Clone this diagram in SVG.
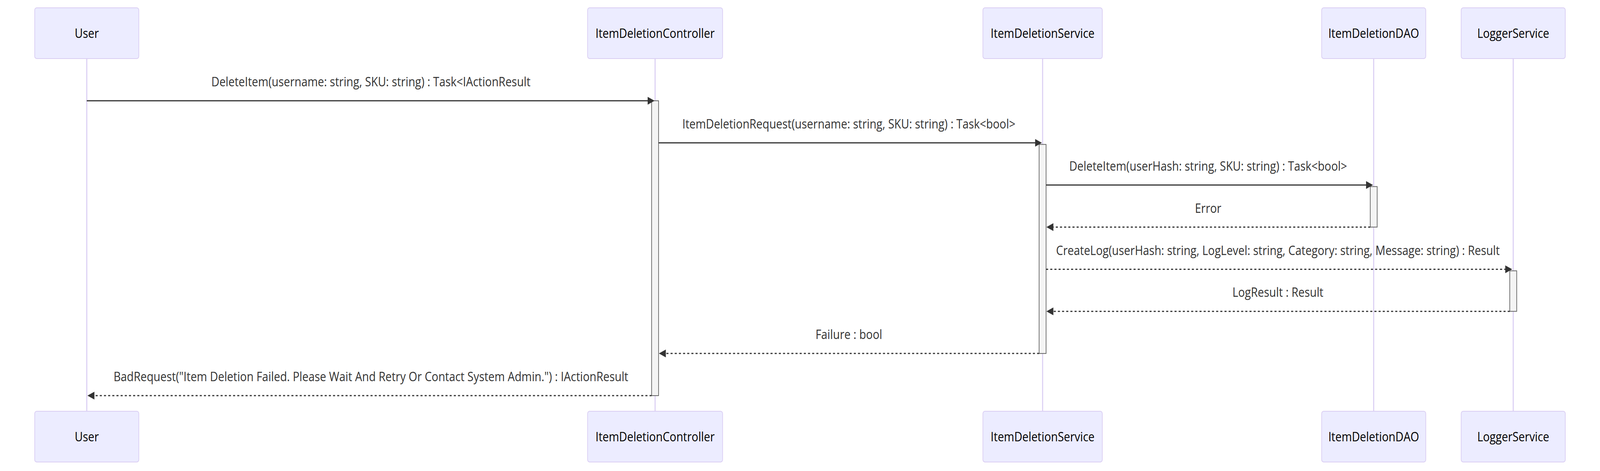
<svg xmlns="http://www.w3.org/2000/svg" width="4610" height="1206" viewBox="0 0 4610 1206" preserveAspectRatio="none" style="width:100%;height:100%">
<style>
.bg{fill:#ffffff}
.actor{fill:#ECECFF;stroke:hsl(259.6,59.8%,87.9%);stroke-width:2}
.actor-line{stroke:hsl(259.6,59.8%,87.9%);stroke-width:3;fill:none}
.actor-text{font-family:"Open Sans","Liberation Sans",sans-serif;font-size:32px;fill:#000;text-anchor:middle;dominant-baseline:central}
.act{fill:#f4f4f4;stroke:#666;stroke-width:2}
.msg{stroke:#333;stroke-width:3;fill:none;marker-end:url(#ah)}
.dot{stroke-dasharray:6,6}
.msg-text{font-family:"Open Sans","Liberation Sans",sans-serif;font-size:32px;fill:#333;text-anchor:middle}
</style>
<defs>
<marker id="ah" markerUnits="userSpaceOnUse" markerWidth="24" markerHeight="24" refX="15.8" refY="10" orient="auto">
<path d="M0,0 L20,10 L0,20 z" fill="#333"/>
</marker>
</defs>
<rect class="bg" x="0" y="0" width="4610" height="1206"/>

<g id="lifelines">
<line class="actor-line" x1="250" y1="150" x2="250" y2="1053"/>
<line class="actor-line" x1="1887.5" y1="150" x2="1887.5" y2="1053"/>
<line class="actor-line" x1="3004" y1="150" x2="3004" y2="1053"/>
<line class="actor-line" x1="3958" y1="150" x2="3958" y2="1053"/>
<line class="actor-line" x1="4360" y1="150" x2="4360" y2="1053"/>
</g>

<g id="User">
<rect class="actor" x="100" y="20" width="300" height="130" rx="6" ry="6"/>
<text class="actor-text" x="250" y="85">User</text>
<rect class="actor" x="100" y="1053" width="300" height="130" rx="6" ry="6"/>
<text class="actor-text" x="250" y="1118">User</text>
</g>

<g id="ItemDeletionController">
<rect class="actor" x="1693" y="20" width="389" height="130" rx="6" ry="6"/>
<text class="actor-text" x="1887.5" y="85">ItemDeletionController</text>
<rect class="actor" x="1693" y="1053" width="389" height="130" rx="6" ry="6"/>
<text class="actor-text" x="1887.5" y="1118">ItemDeletionController</text>
<rect class="act" x="1877.5" y="258" width="20" height="755"/>
</g>

<g id="ItemDeletionService">
<rect class="actor" x="2832" y="20" width="344" height="130" rx="6" ry="6"/>
<text class="actor-text" x="3004" y="85">ItemDeletionService</text>
<rect class="actor" x="2832" y="1053" width="344" height="130" rx="6" ry="6"/>
<text class="actor-text" x="3004" y="1118">ItemDeletionService</text>
<rect class="act" x="2994" y="369.8" width="20" height="535.3"/>
</g>

<g id="ItemDeletionDAO">
<rect class="actor" x="3808" y="20" width="300" height="130" rx="6" ry="6"/>
<text class="actor-text" x="3958" y="85">ItemDeletionDAO</text>
<rect class="actor" x="3808" y="1053" width="300" height="130" rx="6" ry="6"/>
<text class="actor-text" x="3958" y="1118">ItemDeletionDAO</text>
<rect class="act" x="3948" y="477.7" width="20" height="103.8"/>
</g>

<g id="LoggerService">
<rect class="actor" x="4210" y="20" width="300" height="130" rx="6" ry="6"/>
<text class="actor-text" x="4360" y="85">LoggerService</text>
<rect class="actor" x="4210" y="1053" width="300" height="130" rx="6" ry="6"/>
<text class="actor-text" x="4360" y="1118">LoggerService</text>
<rect class="act" x="4350" y="693.4" width="20" height="103.8"/>
</g>

<g id="connectors">
<text class="msg-text" x="1068.75" y="221.3">DeleteItem(username: string, SKU: string) : Task&lt;IActionResult</text>
<line class="msg" x1="250" y1="258" x2="1881.8" y2="258"/>

<text class="msg-text" x="2445.75" y="329.1">ItemDeletionRequest(username: string, SKU: string) : Task&lt;bool&gt;</text>
<line class="msg" x1="1897.5" y1="365.8" x2="2997.8" y2="365.8"/>

<text class="msg-text" x="3481" y="437">DeleteItem(userHash: string, SKU: string) : Task&lt;bool&gt;</text>
<line class="msg" x1="3014" y1="473.7" x2="3951.8" y2="473.7"/>

<text class="msg-text" x="3481" y="544.8">Error</text>
<line class="msg dot" x1="3948" y1="581.5" x2="3019.2" y2="581.5"/>

<text class="msg-text" x="3682" y="652.7">CreateLog(userHash: string, LogLevel: string, Category: string, Message: string) : Result</text>
<line class="msg dot" x1="3014" y1="689.4" x2="4352.8" y2="689.4"/>

<text class="msg-text" x="3682" y="760.5">LogResult : Result</text>
<line class="msg dot" x1="4350" y1="797.2" x2="3019.2" y2="797.2"/>

<text class="msg-text" x="2445.75" y="868.4">Failure : bool</text>
<line class="msg dot" x1="2994" y1="905.1" x2="1902.7" y2="905.1"/>

<text class="msg-text" x="1068.75" y="976.3">BadRequest("Item Deletion Failed. Please Wait And Retry Or Contact System Admin.") : IActionResult</text>
<line class="msg dot" x1="1877.5" y1="1013" x2="256.2" y2="1013"/>
</g>
</svg>
